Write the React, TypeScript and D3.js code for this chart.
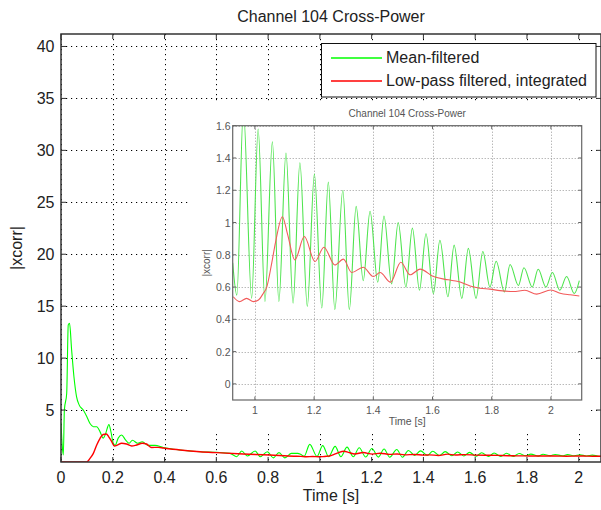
import React from "react";
import * as d3 from "d3";

// Mean-filtered |xcorr| (green): time [s] / value
const greenTime = [
  0, 0.005, 0.009, 0.013, 0.022, 0.028, 0.033, 0.041, 0.05, 0.06, 0.07, 0.086,
  0.099, 0.112, 0.125, 0.138, 0.151, 0.163, 0.172, 0.185, 0.193, 0.202, 0.209,
  0.221, 0.234, 0.25, 0.263, 0.276, 0.296, 0.314, 0.337, 0.363, 0.395, 0.46,
  0.537, 0.6, 0.653, 0.679, 0.698, 0.72, 0.75, 0.77, 0.797, 0.82, 0.842, 0.865,
  0.89, 0.915, 0.925, 0.939, 0.961, 0.989, 1.011, 1.034, 1.059, 1.081, 1.105,
  1.129, 1.152, 1.177, 1.201, 1.226, 1.248, 1.27, 1.297, 1.319, 1.342, 1.366,
  1.389, 1.415, 1.436, 1.462, 1.484, 1.51, 1.532, 1.556, 1.578, 1.603, 1.625,
  1.652, 1.673, 1.699, 1.721, 1.747, 1.77, 1.794, 1.815, 1.843, 1.862, 1.89,
  1.909, 1.937, 1.957, 1.983, 2.005, 2.03, 2.053, 2.079, 2.096,
];
const greenValue = [
  3.8, 1.5, 0.67, 5.0, 6.6, 13.2, 13.35, 10.8, 8.2, 6.3, 5.5, 5.0,
  4.4, 3.7, 3.4, 3.4, 2.9, 2.3, 2.7, 3.6, 2.9, 1.8, 1.6,
  2.3, 2.6, 2.1, 1.8, 2.1, 1.8, 1.95, 1.6, 1.6, 1.4, 1.16,
  0.99, 0.93, 0.83, 0.51, 1.06, 0.58, 1.06, 0.51, 0.99, 0.4, 0.9, 0.4,
  0.83, 0.83, 0.75, 0.55, 1.7, 0.53, 1.58, 0.51, 1.5, 0.51, 1.43,
  0.5, 1.37, 0.48, 1.3, 0.47, 1.25, 0.46, 1.2, 0.46, 1.1, 0.64,
  1.07, 0.63, 1.04, 0.62, 1.0, 0.6, 0.965, 0.58, 0.93, 0.56, 0.89,
  0.54, 0.86, 0.53, 0.84, 0.53, 0.82, 0.6, 0.76, 0.57, 0.74, 0.61,
  0.72, 0.6, 0.71, 0.6, 0.69, 0.58, 0.665, 0.56, 0.64,
];

// Low-pass filtered, integrated (red)
const redTime = [
  0, 0.099, 0.112, 0.125, 0.138, 0.151, 0.163, 0.175, 0.185, 0.196, 0.206,
  0.219, 0.234, 0.253, 0.273, 0.292, 0.314, 0.33, 0.35, 0.376, 0.395, 0.46,
  0.537, 0.6, 0.704, 0.807, 0.9, 0.927, 0.948, 0.972, 0.995, 1.012, 1.028,
  1.04, 1.057, 1.07, 1.093, 1.11, 1.135, 1.167, 1.203, 1.233, 1.27, 1.299,
  1.327, 1.366, 1.4, 1.423, 1.458, 1.493, 1.524, 1.558, 1.603, 1.653, 1.687,
  1.727, 1.76, 1.794, 1.828, 1.873, 1.912, 1.952, 2.0, 2.031, 2.065, 2.096,
];
const redValue = [
  0, 0, 0.35, 0.83, 1.64, 2.28, 2.65, 2.7, 2.4, 1.96, 1.54,
  1.64, 1.8, 1.73, 1.54, 1.64, 1.8, 1.73, 1.4, 1.41, 1.35, 1.16,
  0.99, 0.9, 0.77, 0.67, 0.56, 0.54, 0.51, 0.53, 0.51, 0.52, 0.56,
  0.6, 0.75, 0.88, 1.036, 0.93, 0.768, 0.913, 0.758, 0.847, 0.737, 0.773,
  0.69, 0.723, 0.665, 0.69, 0.63, 0.754, 0.676, 0.711, 0.665, 0.645, 0.634,
  0.607, 0.593, 0.587, 0.578, 0.572, 0.58, 0.556, 0.582, 0.562, 0.552, 0.545,
];

const seriesNames = ["Mean-filtered", "Low-pass filtered, integrated"];
const seriesColors = ["#00ff00", "#ff0000"];
const mainXTicks = [0, 0.2, 0.4, 0.6, 0.8, 1, 1.2, 1.4, 1.6, 1.8, 2];
const mainYTicks = [5, 10, 15, 20, 25, 30, 35, 40];
const insetXTicks = [1, 1.2, 1.4, 1.6, 1.8, 2];
const insetYTicks = [0, 0.2, 0.4, 0.6, 0.8, 1, 1.2, 1.4, 1.6];

const FONT = "'Liberation Sans', Arial, Helvetica, sans-serif";

type Pt = [number, number];

export default function App() {
  const W = 601;
  const H = 510;
  const m = { left: 61, top: 34, right: 601, bottom: 462 };
  const ins = { left: 232.7, top: 125.7, right: 581.7, bottom: 400 };
  const panel = { left: 190, top: 104, right: 588, bottom: 432 };

  const x = d3.scaleLinear().domain([0, 2.086]).range([m.left, m.right]);
  const y = d3.scaleLinear().domain([0, 41.2]).range([m.bottom, m.top]);
  const xi = d3.scaleLinear().domain([0.925, 2.104]).range([ins.left, ins.right]);
  const yi = d3.scaleLinear().domain([-0.1, 1.6]).range([ins.bottom, ins.top]);

  const green: Pt[] = greenTime.map((t, i) => [t, greenValue[i]]);
  const red: Pt[] = redTime.map((t, i) => [t, redValue[i]]);

  const mainLine = d3
    .line<Pt>()
    .x((d) => x(d[0]))
    .y((d) => y(d[1]))
    .curve(d3.curveMonotoneX);
  const insetLine = d3
    .line<Pt>()
    .x((d) => xi(d[0]))
    .y((d) => yi(d[1]))
    .curve(d3.curveMonotoneX);

  const insetData = (arr: Pt[]) => arr.filter((d) => d[0] >= 0.92);

  return (
    <svg
      width={W}
      height={H}
      style={{ position: "absolute", left: 0, top: 0, background: "#fff" }}
      fontFamily={FONT}
    >
      <defs>
        <clipPath id="mainClip">
          <rect x={m.left} y={m.top} width={m.right - m.left} height={m.bottom - m.top} />
        </clipPath>
        <clipPath id="insetClip">
          <rect x={ins.left} y={ins.top} width={ins.right - ins.left} height={ins.bottom - ins.top} />
        </clipPath>
      </defs>

      <text x={(m.left + m.right) / 2} y={22} textAnchor="middle" fontSize={16} fill="#222">
        Channel 104 Cross-Power
      </text>

      {/* main grid */}
      <g stroke="#000" strokeWidth={1} strokeDasharray="1.2,3.8">
        {mainXTicks.map((t) => (
          <line key={"gx" + t} x1={Math.round(x(t)) + 0.5} x2={Math.round(x(t)) + 0.5} y1={m.top} y2={m.bottom} />
        ))}
        {mainYTicks.map((t) => (
          <line key={"gy" + t} x1={m.left} x2={m.right} y1={Math.round(y(t)) + 0.5} y2={Math.round(y(t)) + 0.5} />
        ))}
      </g>

      {/* main curves */}
      <g clipPath="url(#mainClip)" fill="none">
        <path d={mainLine(green) || ""} stroke={seriesColors[0]} strokeWidth={1.1} />
        <path d={mainLine(red) || ""} stroke={seriesColors[1]} strokeWidth={1.4} />
      </g>

      {/* main ticks and box */}
      <g stroke="#333" strokeWidth={1}>
        {mainXTicks.map((t) => (
          <g key={"tx" + t}>
            <line x1={x(t)} x2={x(t)} y1={m.bottom} y2={m.bottom - 5} />
            <line x1={x(t)} x2={x(t)} y1={m.top} y2={m.top + 5} />
          </g>
        ))}
        {mainYTicks.map((t) => (
          <g key={"ty" + t}>
            <line x1={m.left} x2={m.left + 5} y1={y(t)} y2={y(t)} />
            <line x1={m.right} x2={m.right - 5} y1={y(t)} y2={y(t)} />
          </g>
        ))}
      </g>
      <rect
        x={m.left}
        y={m.top}
        width={m.right - m.left}
        height={m.bottom - m.top}
        fill="none"
        stroke="#333"
        strokeWidth={1.5}
      />

      {mainXTicks.map((t) => (
        <text key={"lx" + t} x={x(t)} y={483} textAnchor="middle" fontSize={16} fill="#222">
          {t}
        </text>
      ))}
      {mainYTicks.map((t) => (
        <text key={"ly" + t} x={54.5} y={y(t) + 6} textAnchor="end" fontSize={16} fill="#222">
          {t}
        </text>
      ))}
      <text x={(m.left + m.right) / 2} y={501} textAnchor="middle" fontSize={16} fill="#222">
        Time [s]
      </text>
      <text
        transform={`translate(22,${(m.top + m.bottom) / 2}) rotate(-90)`}
        textAnchor="middle"
        fontSize={16}
        fill="#222"
      >
        |xcorr|
      </text>

      {/* inset */}
      <rect
        x={panel.left}
        y={panel.top}
        width={panel.right - panel.left}
        height={panel.bottom - panel.top}
        fill="#fff"
      />
      <text x={(ins.left + ins.right) / 2} y={117} textAnchor="middle" fontSize={10} fill="#555">
        Channel 104 Cross-Power
      </text>
      <g stroke="#9a9a9a" strokeWidth={1} strokeDasharray="1,2">
        {insetXTicks.map((t) => (
          <line key={"igx" + t} x1={Math.round(xi(t)) + 0.5} x2={Math.round(xi(t)) + 0.5} y1={ins.top} y2={ins.bottom} />
        ))}
        {insetYTicks.map((t) => (
          <line key={"igy" + t} x1={ins.left} x2={ins.right} y1={Math.round(yi(t)) + 0.5} y2={Math.round(yi(t)) + 0.5} />
        ))}
      </g>
      <g clipPath="url(#insetClip)" fill="none">
        <path d={insetLine(insetData(green)) || ""} stroke="#4fe44f" strokeWidth={1.1} />
        <path d={insetLine(insetData(red)) || ""} stroke="#f25a5a" strokeWidth={1.1} />
      </g>
      <g stroke="#666" strokeWidth={1}>
        {insetXTicks.map((t) => (
          <g key={"itx" + t}>
            <line x1={xi(t)} x2={xi(t)} y1={ins.bottom} y2={ins.bottom - 3.5} />
            <line x1={xi(t)} x2={xi(t)} y1={ins.top} y2={ins.top + 3.5} />
          </g>
        ))}
        {insetYTicks.map((t) => (
          <g key={"ity" + t}>
            <line x1={ins.left} x2={ins.left + 3.5} y1={yi(t)} y2={yi(t)} />
            <line x1={ins.right} x2={ins.right - 3.5} y1={yi(t)} y2={yi(t)} />
          </g>
        ))}
      </g>
      <rect
        x={ins.left}
        y={ins.top}
        width={ins.right - ins.left}
        height={ins.bottom - ins.top}
        fill="none"
        stroke="#666"
        strokeWidth={1.2}
      />
      {insetXTicks.map((t) => (
        <text key={"ilx" + t} x={xi(t)} y={413.5} textAnchor="middle" fontSize={10.5} fill="#555">
          {t}
        </text>
      ))}
      {insetYTicks.map((t) => (
        <text key={"ily" + t} x={230.5} y={yi(t) + 4} textAnchor="end" fontSize={10.5} fill="#555">
          {t}
        </text>
      ))}
      <text x={(ins.left + ins.right) / 2} y={425} textAnchor="middle" fontSize={10.5} fill="#555">
        Time [s]
      </text>
      <text
        transform={`translate(210,${(ins.top + ins.bottom) / 2}) rotate(-90)`}
        textAnchor="middle"
        fontSize={10}
        fill="#555"
      >
        |xcorr|
      </text>

      {/* legend */}
      <rect x={321.5} y={43.5} width={274.5} height={53.5} fill="#fff" stroke="#111" strokeWidth={1} />
      {seriesNames.map((name, i) => (
        <g key={name}>
          <line
            x1={331}
            x2={382}
            y1={58 + i * 23}
            y2={58 + i * 23}
            stroke={seriesColors[i]}
            strokeWidth={1.4}
          />
          <text x={386} y={63 + i * 23.3} fontSize={16} fill="#222">
            {name}
          </text>
        </g>
      ))}
    </svg>
  );
}
